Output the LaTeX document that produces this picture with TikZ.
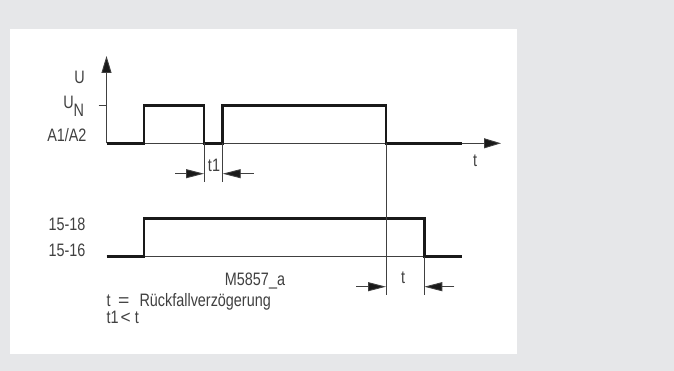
\documentclass[tikz,border=0pt]{standalone}
\usepackage{fontspec}
\setmainfont{Liberation Sans}[FakeStretch=0.8]
\usetikzlibrary{arrows.meta}

\definecolor{panelgrey}{HTML}{E6E7E9}
\definecolor{inkgrey}{HTML}{404040}
\tikzset{
	lbl/.style={text=inkgrey, inner sep=0pt, font=\fontsize{18}{20}\selectfont},
	sig/.style={line width=2.6pt, draw=black!90, line join=miter},
	hair/.style={line width=0.9pt, draw=inkgrey},
	axisarrow/.style={hair, -{Triangle[length=17pt,width=10pt,fill=black!90]}},
	dimarrow/.style={hair, -{Triangle[length=18pt,width=9pt,fill=black!90]}},
}

\begin{document}
\begin{tikzpicture}[x=1pt,y=-1pt]
		\def\yhi{105.5}
		\def\ylo{143.3}
		\def\yHi{218.3}
		\def\yLo{256.7}
		\def\xo{106.5}
		\fill[panelgrey] (0,0) rectangle (674,371);
		\fill[white] (9.5,29) rectangle (517,354);
		\useasboundingbox (0,0) rectangle (674,371);
		\coordinate (o) at (\xo,\ylo);
		\coordinate (utop) at (\xo,56);
		\coordinate (tend) at (501,\ylo);
		\draw[axisarrow] (o) -- (utop);
		\draw[axisarrow] (o) -- (tend);
		\draw[hair] (98.7,\yhi) -- (\xo,\yhi);
		\draw[hair] (\xo,\yLo) -- (462,\yLo);
		\draw[sig] 
			(\xo,\ylo) -- (144,\ylo) -- (144,\yhi) -- (204,\yhi) -- (204,\ylo) 
			-- (222.7,\ylo) -- (222.7,\yhi) -- (386,\yhi) -- (386,\ylo) -- (462,\ylo);
		\draw[sig] 
			(\xo,\yLo) -- (144,\yLo) -- (144,\yHi) -- (424.3,\yHi) -- (424.3,\yLo) -- (462,\yLo);
		\foreach \x/\ya/\yb in {204/\ylo/182, 222.7/\ylo/182, 386/\ylo/295, 424.3/\yLo/295}
		{
			\draw[hair] (\x,\ya) -- (\x,\yb);
		}
		\foreach \a/\b/\y in {175.4/204/173.7, 253.7/222.7/173.7, 356/386/286.7, 454.4/424.3/286.7}
		{
			\coordinate (s) at (\a,\y);
			\coordinate (e) at (\b,\y);
			\draw[dimarrow] (s) -- (e);
		}
		\node[lbl, anchor=base east] (lU) at (85,83.3) {U};
		\node[lbl, anchor=base east] (lUN) at (84.3,108.3) {U\raisebox{-8pt}{N}};
		\node[lbl, anchor=base east] (lA) at (86.7,141.7) {A1/A2};
		\node[lbl, anchor=base] (lt) at (475,167) {t};
		\node[lbl, anchor=base] (lt1) at (214,171.7) {t1};
		\node[lbl, anchor=base east] (l1518) at (85.7,231) {15-18};
		\node[lbl, anchor=base east] (l1516) at (85.7,256.7) {15-16};
		\node[lbl, anchor=base] (lcode) at (255,285.7) {M5857\_a};
		\node[lbl, anchor=base] (ltt) at (403,283) {t};
		\node[lbl, anchor=base west] (lkey) at (\xo,306.7) {t\hspace{7.5pt}\scalebox{1.35}[1]{=}\hspace{10pt}Rückfallverzögerung};
		\node[lbl, anchor=base west] (lrel) at (\xo,323.3) {t1\hspace{2pt}\scalebox{1.2}[1]{<}\hspace{4pt}t};
	\end{tikzpicture}
\end{document}
